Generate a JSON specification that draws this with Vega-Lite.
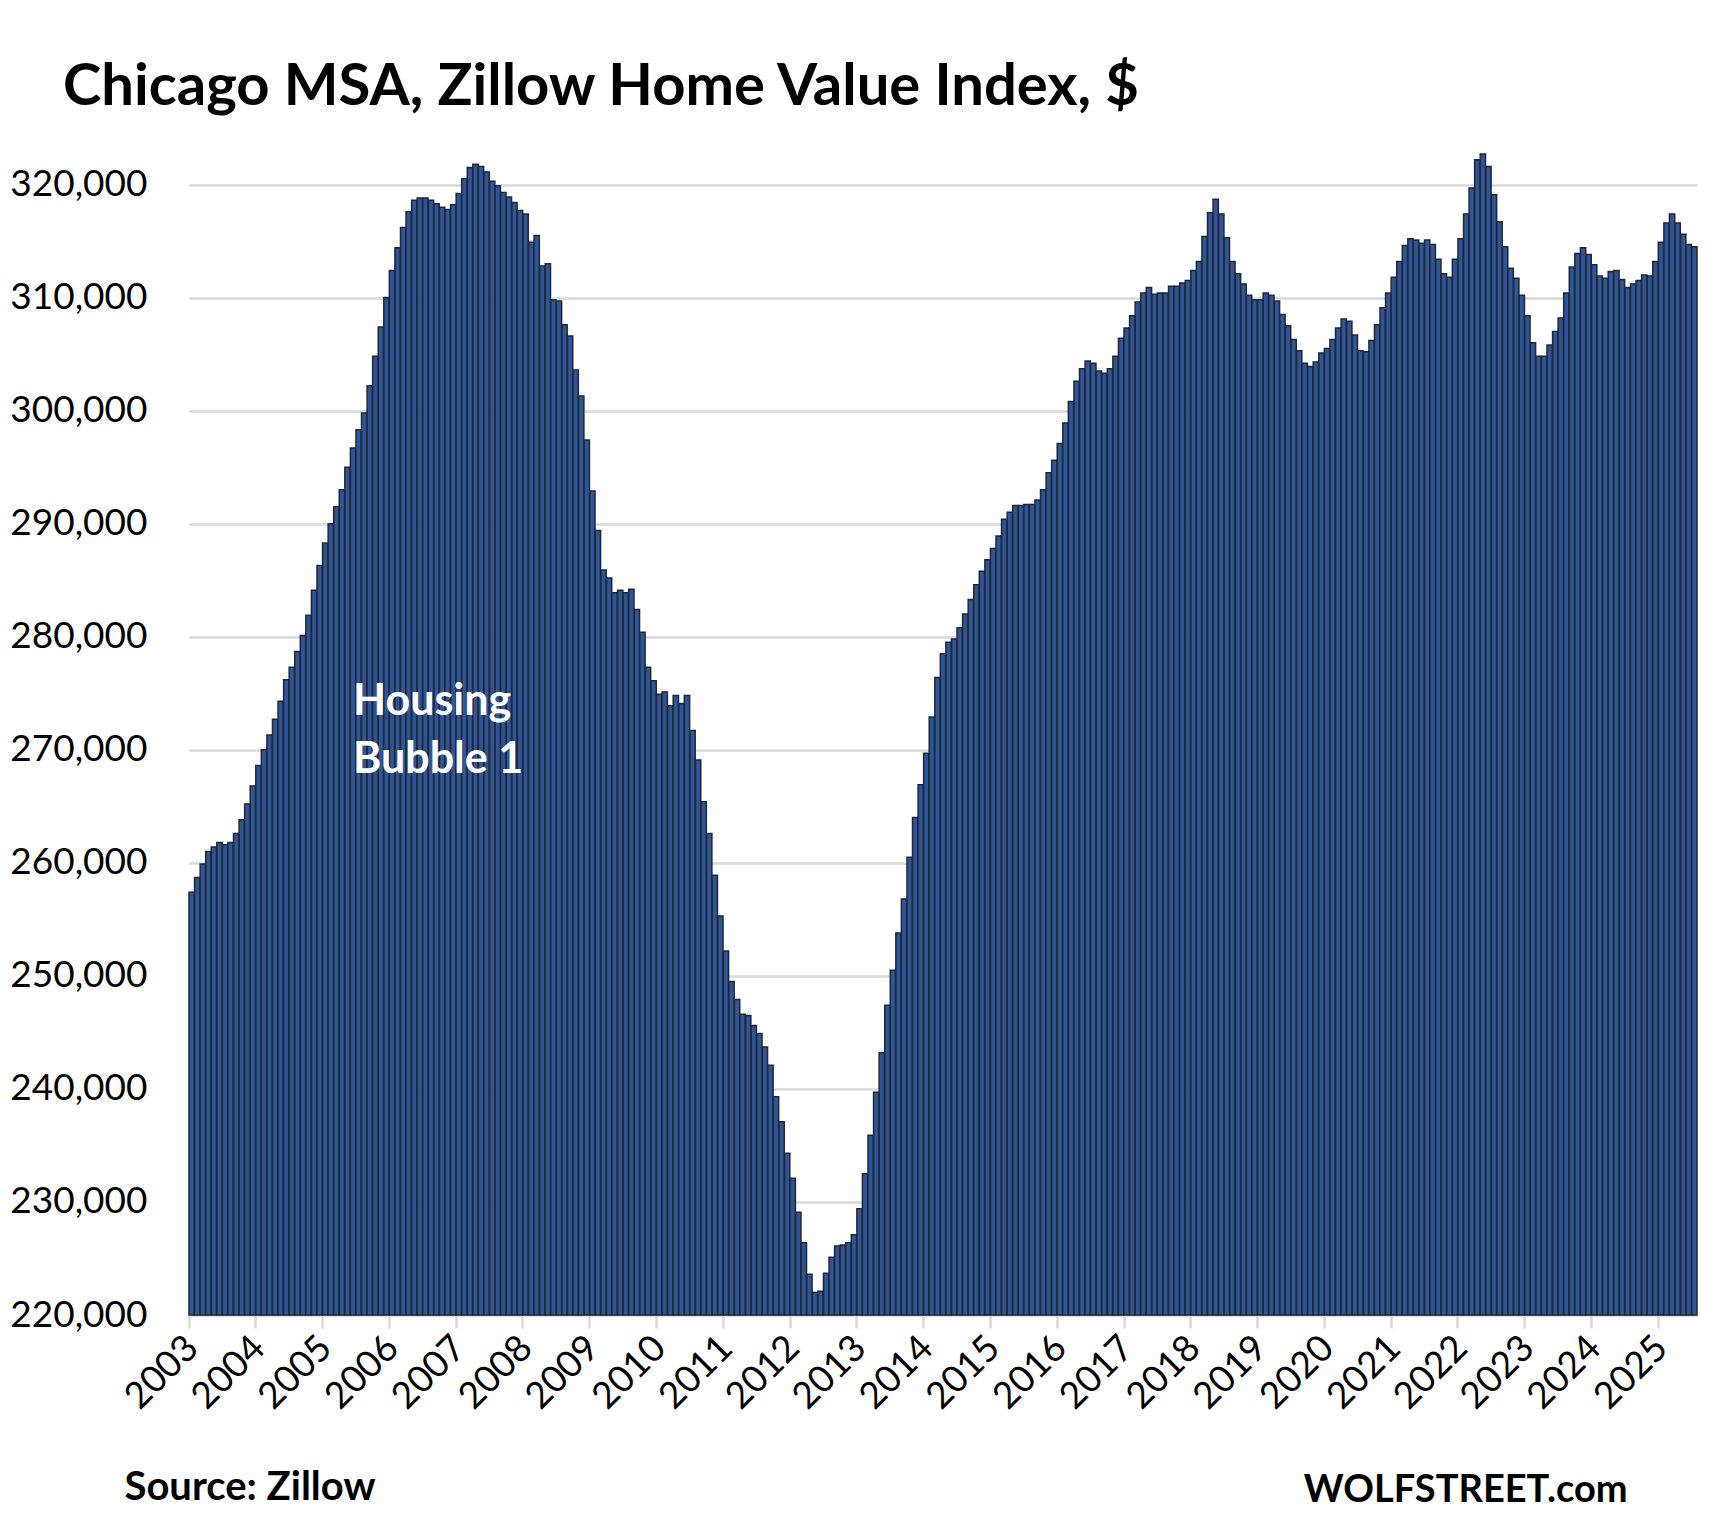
{
  "$schema": "https://vega.github.io/schema/vega-lite/v6.json",
  "width": 1508,
  "height": 1187,
  "autosize": {"type": "none"},
  "padding": {"left": 189, "top": 128, "right": 24, "bottom": 213},
  "background": "white",
  "config": {"view": {"stroke": null}, "font": "Lato"},
  "title": {
    "text": "Chicago MSA, Zillow Home Value Index, $",
    "anchor": "start",
    "frame": "group",
    "dx": -126,
    "dy": 60,
    "offset": 25,
    "baseline": "alphabetic",
    "font": "Lato",
    "fontSize": 58,
    "fontWeight": "bold",
    "color": "black"
  },
  "encoding": {
    "x": {
      "field": "m",
      "type": "ordinal",
      "sort": "ascending",
      "scale": {"paddingInner": 0.05, "paddingOuter": 0},
      "axis": {
        "title": "Source: Zillow",
        "titleAnchor": "start",
        "titleAlign": "left",
        "titleBaseline": "alphabetic",
        "titleX": -65,
        "titleY": 184,
        "titleFont": "Lato",
        "titleFontSize": 40,
        "titleFontWeight": "bold",
        "titleColor": "black",
        "bandPosition": 0,
        "values": ["2003-01", "2004-01", "2005-01", "2006-01", "2007-01", "2008-01", "2009-01", "2010-01", "2011-01", "2012-01", "2013-01", "2014-01", "2015-01", "2016-01", "2017-01", "2018-01", "2019-01", "2020-01", "2021-01", "2022-01", "2023-01", "2024-01", "2025-01"],
        "labelExpr": "substring(datum.value, 0, 4)",
        "labelAngle": -45,
        "labelAlign": "right",
        "labelBaseline": "middle",
        "labelFont": "Lato",
        "labelFontSize": 37,
        "labelColor": "black",
        "labelPadding": 14,
        "labelOffset": 1,
        "tickSize": 13,
        "tickColor": "#d9d9d9",
        "tickWidth": 2.5,
        "domainColor": "#d9d9d9",
        "domainWidth": 2.5,
        "grid": false
      }
    },
    "y": {
      "field": "v",
      "type": "quantitative",
      "scale": {"domain": [220000, 325000], "nice": false, "zero": false},
      "axis": {
        "title": null,
        "values": [220000, 230000, 240000, 250000, 260000, 270000, 280000, 290000, 300000, 310000, 320000],
        "labelExpr": "format(datum.value, ',')",
        "labelFont": "Lato",
        "labelFontSize": 37,
        "labelColor": "black",
        "labelPadding": 42,
        "ticks": false,
        "domain": false,
        "gridColor": "#d9d9d9",
        "gridWidth": 2.5
      }
    }
  },
  "layer": [
    {
      "data": {
        "values": [
          {"m": "2003-01", "v": 257400}, {"m": "2003-02", "v": 258700}, {"m": "2003-03", "v": 259900}, {"m": "2003-04", "v": 261000},
          {"m": "2003-05", "v": 261400}, {"m": "2003-06", "v": 261800}, {"m": "2003-07", "v": 261600}, {"m": "2003-08", "v": 261800},
          {"m": "2003-09", "v": 262600}, {"m": "2003-10", "v": 263800}, {"m": "2003-11", "v": 265200}, {"m": "2003-12", "v": 266800},
          {"m": "2004-01", "v": 268600}, {"m": "2004-02", "v": 270000}, {"m": "2004-03", "v": 271300}, {"m": "2004-04", "v": 272700},
          {"m": "2004-05", "v": 274300}, {"m": "2004-06", "v": 276200}, {"m": "2004-07", "v": 277300}, {"m": "2004-08", "v": 278700},
          {"m": "2004-09", "v": 280100}, {"m": "2004-10", "v": 281900}, {"m": "2004-11", "v": 284100}, {"m": "2004-12", "v": 286300},
          {"m": "2005-01", "v": 288300}, {"m": "2005-02", "v": 290000}, {"m": "2005-03", "v": 291500}, {"m": "2005-04", "v": 293000},
          {"m": "2005-05", "v": 295000}, {"m": "2005-06", "v": 296700}, {"m": "2005-07", "v": 298300}, {"m": "2005-08", "v": 299800},
          {"m": "2005-09", "v": 302200}, {"m": "2005-10", "v": 304800}, {"m": "2005-11", "v": 307400}, {"m": "2005-12", "v": 310000},
          {"m": "2006-01", "v": 312400}, {"m": "2006-02", "v": 314400}, {"m": "2006-03", "v": 316200}, {"m": "2006-04", "v": 317600},
          {"m": "2006-05", "v": 318600}, {"m": "2006-06", "v": 318800}, {"m": "2006-07", "v": 318800}, {"m": "2006-08", "v": 318600},
          {"m": "2006-09", "v": 318300}, {"m": "2006-10", "v": 318000}, {"m": "2006-11", "v": 317800}, {"m": "2006-12", "v": 318200},
          {"m": "2007-01", "v": 319200}, {"m": "2007-02", "v": 320500}, {"m": "2007-03", "v": 321500}, {"m": "2007-04", "v": 321800},
          {"m": "2007-05", "v": 321600}, {"m": "2007-06", "v": 321100}, {"m": "2007-07", "v": 320300}, {"m": "2007-08", "v": 319900},
          {"m": "2007-09", "v": 319300}, {"m": "2007-10", "v": 318900}, {"m": "2007-11", "v": 318400}, {"m": "2007-12", "v": 317700},
          {"m": "2008-01", "v": 317400}, {"m": "2008-02", "v": 314900}, {"m": "2008-03", "v": 315500}, {"m": "2008-04", "v": 312800},
          {"m": "2008-05", "v": 313000}, {"m": "2008-06", "v": 309800}, {"m": "2008-07", "v": 309700}, {"m": "2008-08", "v": 307600},
          {"m": "2008-09", "v": 306600}, {"m": "2008-10", "v": 303600}, {"m": "2008-11", "v": 301300}, {"m": "2008-12", "v": 297400},
          {"m": "2009-01", "v": 292900}, {"m": "2009-02", "v": 289400}, {"m": "2009-03", "v": 285900}, {"m": "2009-04", "v": 285200},
          {"m": "2009-05", "v": 283900}, {"m": "2009-06", "v": 284100}, {"m": "2009-07", "v": 283900}, {"m": "2009-08", "v": 284200},
          {"m": "2009-09", "v": 282400}, {"m": "2009-10", "v": 280400}, {"m": "2009-11", "v": 277300}, {"m": "2009-12", "v": 276100},
          {"m": "2010-01", "v": 274900}, {"m": "2010-02", "v": 275100}, {"m": "2010-03", "v": 273900}, {"m": "2010-04", "v": 274800},
          {"m": "2010-05", "v": 274100}, {"m": "2010-06", "v": 274800}, {"m": "2010-07", "v": 271700}, {"m": "2010-08", "v": 269100},
          {"m": "2010-09", "v": 265400}, {"m": "2010-10", "v": 262600}, {"m": "2010-11", "v": 258900}, {"m": "2010-12", "v": 255300},
          {"m": "2011-01", "v": 252200}, {"m": "2011-02", "v": 249500}, {"m": "2011-03", "v": 247900}, {"m": "2011-04", "v": 246600},
          {"m": "2011-05", "v": 246500}, {"m": "2011-06", "v": 245600}, {"m": "2011-07", "v": 244900}, {"m": "2011-08", "v": 243700},
          {"m": "2011-09", "v": 242100}, {"m": "2011-10", "v": 239300}, {"m": "2011-11", "v": 237100}, {"m": "2011-12", "v": 234300},
          {"m": "2012-01", "v": 232100}, {"m": "2012-02", "v": 229100}, {"m": "2012-03", "v": 226400}, {"m": "2012-04", "v": 223600},
          {"m": "2012-05", "v": 222000}, {"m": "2012-06", "v": 222100}, {"m": "2012-07", "v": 223700}, {"m": "2012-08", "v": 225100},
          {"m": "2012-09", "v": 226100}, {"m": "2012-10", "v": 226200}, {"m": "2012-11", "v": 226400}, {"m": "2012-12", "v": 227100},
          {"m": "2013-01", "v": 229400}, {"m": "2013-02", "v": 232500}, {"m": "2013-03", "v": 235900}, {"m": "2013-04", "v": 239700},
          {"m": "2013-05", "v": 243200}, {"m": "2013-06", "v": 247400}, {"m": "2013-07", "v": 250500}, {"m": "2013-08", "v": 253800},
          {"m": "2013-09", "v": 256800}, {"m": "2013-10", "v": 260500}, {"m": "2013-11", "v": 264000}, {"m": "2013-12", "v": 266900},
          {"m": "2014-01", "v": 269700}, {"m": "2014-02", "v": 272900}, {"m": "2014-03", "v": 276400}, {"m": "2014-04", "v": 278500},
          {"m": "2014-05", "v": 279500}, {"m": "2014-06", "v": 279800}, {"m": "2014-07", "v": 280800}, {"m": "2014-08", "v": 282000},
          {"m": "2014-09", "v": 283300}, {"m": "2014-10", "v": 284600}, {"m": "2014-11", "v": 285800}, {"m": "2014-12", "v": 286800},
          {"m": "2015-01", "v": 287800}, {"m": "2015-02", "v": 288900}, {"m": "2015-03", "v": 290400}, {"m": "2015-04", "v": 291000},
          {"m": "2015-05", "v": 291600}, {"m": "2015-06", "v": 291600}, {"m": "2015-07", "v": 291700}, {"m": "2015-08", "v": 291700},
          {"m": "2015-09", "v": 292100}, {"m": "2015-10", "v": 293000}, {"m": "2015-11", "v": 294500}, {"m": "2015-12", "v": 295600},
          {"m": "2016-01", "v": 297100}, {"m": "2016-02", "v": 298900}, {"m": "2016-03", "v": 300800}, {"m": "2016-04", "v": 302600},
          {"m": "2016-05", "v": 303700}, {"m": "2016-06", "v": 304400}, {"m": "2016-07", "v": 304200}, {"m": "2016-08", "v": 303500},
          {"m": "2016-09", "v": 303300}, {"m": "2016-10", "v": 303700}, {"m": "2016-11", "v": 304800}, {"m": "2016-12", "v": 306400},
          {"m": "2017-01", "v": 307300}, {"m": "2017-02", "v": 308400}, {"m": "2017-03", "v": 309600}, {"m": "2017-04", "v": 310400},
          {"m": "2017-05", "v": 310900}, {"m": "2017-06", "v": 310300}, {"m": "2017-07", "v": 310400}, {"m": "2017-08", "v": 310400},
          {"m": "2017-09", "v": 311000}, {"m": "2017-10", "v": 311000}, {"m": "2017-11", "v": 311300}, {"m": "2017-12", "v": 311500},
          {"m": "2018-01", "v": 312400}, {"m": "2018-02", "v": 313200}, {"m": "2018-03", "v": 315400}, {"m": "2018-04", "v": 317500},
          {"m": "2018-05", "v": 318700}, {"m": "2018-06", "v": 317400}, {"m": "2018-07", "v": 315300}, {"m": "2018-08", "v": 313200},
          {"m": "2018-09", "v": 312100}, {"m": "2018-10", "v": 311200}, {"m": "2018-11", "v": 310200}, {"m": "2018-12", "v": 309800},
          {"m": "2019-01", "v": 309800}, {"m": "2019-02", "v": 310400}, {"m": "2019-03", "v": 310200}, {"m": "2019-04", "v": 309700},
          {"m": "2019-05", "v": 308500}, {"m": "2019-06", "v": 307500}, {"m": "2019-07", "v": 306300}, {"m": "2019-08", "v": 305300},
          {"m": "2019-09", "v": 304200}, {"m": "2019-10", "v": 303900}, {"m": "2019-11", "v": 304300}, {"m": "2019-12", "v": 305100},
          {"m": "2020-01", "v": 305500}, {"m": "2020-02", "v": 306300}, {"m": "2020-03", "v": 307300}, {"m": "2020-04", "v": 308100},
          {"m": "2020-05", "v": 307900}, {"m": "2020-06", "v": 306700}, {"m": "2020-07", "v": 305300}, {"m": "2020-08", "v": 305200},
          {"m": "2020-09", "v": 306200}, {"m": "2020-10", "v": 307600}, {"m": "2020-11", "v": 309100}, {"m": "2020-12", "v": 310400},
          {"m": "2021-01", "v": 311800}, {"m": "2021-02", "v": 313200}, {"m": "2021-03", "v": 314600}, {"m": "2021-04", "v": 315200},
          {"m": "2021-05", "v": 315100}, {"m": "2021-06", "v": 314800}, {"m": "2021-07", "v": 315100}, {"m": "2021-08", "v": 314700},
          {"m": "2021-09", "v": 313400}, {"m": "2021-10", "v": 312100}, {"m": "2021-11", "v": 311800}, {"m": "2021-12", "v": 313400},
          {"m": "2022-01", "v": 315200}, {"m": "2022-02", "v": 317400}, {"m": "2022-03", "v": 319700}, {"m": "2022-04", "v": 322200},
          {"m": "2022-05", "v": 322700}, {"m": "2022-06", "v": 321600}, {"m": "2022-07", "v": 319100}, {"m": "2022-08", "v": 316700},
          {"m": "2022-09", "v": 314500}, {"m": "2022-10", "v": 312600}, {"m": "2022-11", "v": 311700}, {"m": "2022-12", "v": 310200},
          {"m": "2023-01", "v": 308400}, {"m": "2023-02", "v": 306000}, {"m": "2023-03", "v": 304800}, {"m": "2023-04", "v": 304800},
          {"m": "2023-05", "v": 305800}, {"m": "2023-06", "v": 307000}, {"m": "2023-07", "v": 308200}, {"m": "2023-08", "v": 310400},
          {"m": "2023-09", "v": 312700}, {"m": "2023-10", "v": 313900}, {"m": "2023-11", "v": 314400}, {"m": "2023-12", "v": 313800},
          {"m": "2024-01", "v": 312900}, {"m": "2024-02", "v": 311900}, {"m": "2024-03", "v": 311700}, {"m": "2024-04", "v": 312300},
          {"m": "2024-05", "v": 312400}, {"m": "2024-06", "v": 311600}, {"m": "2024-07", "v": 310900}, {"m": "2024-08", "v": 311200},
          {"m": "2024-09", "v": 311500}, {"m": "2024-10", "v": 312000}, {"m": "2024-11", "v": 311900}, {"m": "2024-12", "v": 313200},
          {"m": "2025-01", "v": 314900}, {"m": "2025-02", "v": 316600}, {"m": "2025-03", "v": 317400}, {"m": "2025-04", "v": 316600},
          {"m": "2025-05", "v": 315600}, {"m": "2025-06", "v": 314700}, {"m": "2025-07", "v": 314500}
        ]
      },
      "mark": {"type": "bar", "color": "#2f5597", "stroke": "#1f2736", "strokeWidth": 1.5},
      "encoding": {
        "y2": {"datum": 220000}
      }
    },
    {
      "data": {
        "values": [
          {"m": "2005-06", "v": 274200, "label": "Housing"},
          {"m": "2005-06", "v": 269100, "label": "Bubble 1"}
        ]
      },
      "mark": {"type": "text", "align": "left", "baseline": "middle", "font": "Lato", "fontSize": 43, "fontWeight": "bold", "color": "white"},
      "encoding": {
        "text": {"field": "label"}
      }
    },
    {
      "data": {
        "values": [
          {"m": "2024-07", "v": 203500, "label": "WOLFSTREET.com"}
        ]
      },
      "mark": {"type": "text", "align": "right", "baseline": "alphabetic", "font": "Lato", "fontSize": 38, "fontWeight": "bold", "color": "black"},
      "encoding": {
        "text": {"field": "label"}
      }
    }
  ]
}
